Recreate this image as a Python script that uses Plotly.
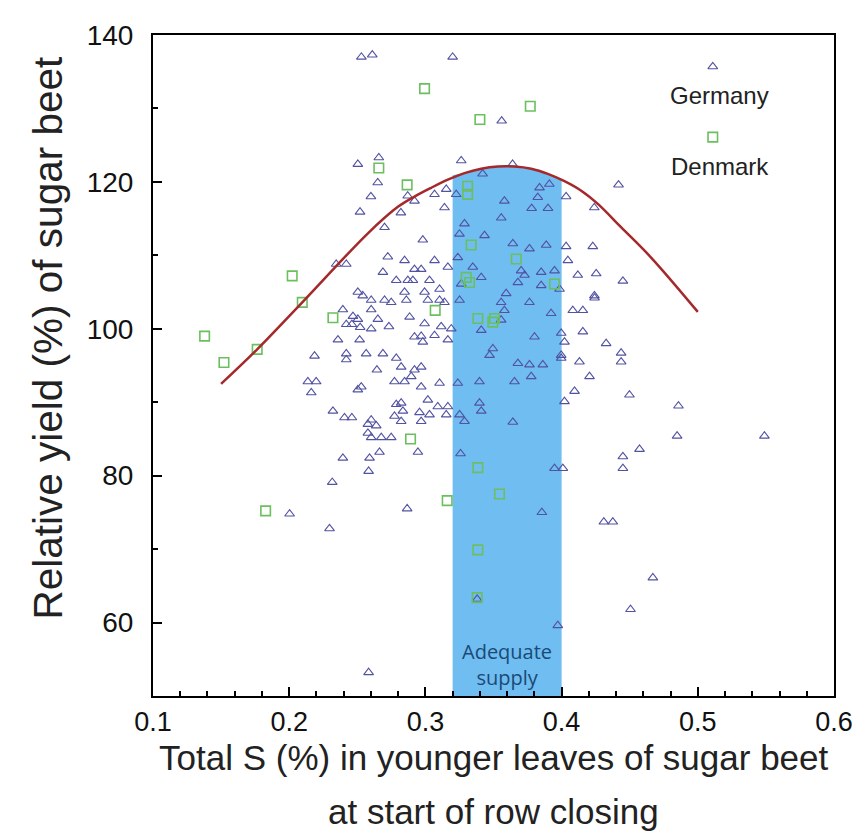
import plotly.graph_objects as go

# ---- data ----
germany_x = [0.253, 0.261, 0.2504, 0.2658, 0.265, 0.260, 0.252, 0.270,
             0.320, 0.356, 0.3263, 0.364, 0.342, 0.3153, 0.3067, 0.3226, 0.292, 0.287, 0.314, 0.282, 0.358, 0.3557,
             0.3838, 0.391, 0.3825, 0.378, 0.390, 0.4033, 0.424, 0.3287,
             0.2724, 0.2345, 0.2419, 0.2688, 0.2786, 0.2504, 0.254, 0.2602, 0.270, 0.2749, 0.2394, 0.2602, 0.2468,
             0.2504, 0.2419, 0.246, 0.2521, 0.2651, 0.2602, 0.2732, 0.2358, 0.2517, 0.2186, 0.2419, 0.2419, 0.2565,
             0.2688, 0.2786, 0.2644, 0.2773, 0.2137, 0.2198, 0.2162, 0.2504, 0.2529, 0.2321, 0.2406, 0.246, 0.2602,
             0.2578, 0.2639, 0.2786, 0.2773,
             0.2981, 0.2847, 0.3067, 0.292, 0.2969, 0.3165, 0.2871, 0.2908, 0.303, 0.3104, 0.2847, 0.286, 0.2994,
             0.3018, 0.3104, 0.314, 0.2884, 0.2994, 0.3116, 0.319, 0.292, 0.2969, 0.2981, 0.3067, 0.3165, 0.2822,
             0.292, 0.2969, 0.2896, 0.2847, 0.2969, 0.3104, 0.3018, 0.3091, 0.3165, 0.2822, 0.2835, 0.2957, 0.3030,
             0.3153, 0.2822, 0.2969,
             0.325, 0.3434, 0.3642, 0.3764, 0.3887, 0.4033, 0.4229, 0.3238, 0.3348, 0.4046, 0.3703, 0.3728, 0.385,
             0.3948, 0.341, 0.3263, 0.3679, 0.385, 0.3985, 0.4119, 0.4241, 0.3593, 0.3556, 0.358, 0.3251, 0.3764,
             0.3923, 0.3556, 0.341, 0.4082, 0.4156, 0.4156, 0.3997, 0.4021, 0.3801, 0.3495, 0.3471, 0.3997, 0.3997,
             0.3679, 0.3764, 0.3777, 0.3862, 0.4131, 0.4205, 0.3654, 0.3397, 0.3238, 0.4095, 0.4021, 0.3397, 0.341,
             0.3251, 0.3287, 0.3642,
             0.2578, 0.2602, 0.2676, 0.2749, 0.2663, 0.2394, 0.259, 0.2583, 0.2316, 0.2003, 0.2296, 0.2583,
             0.2945, 0.3258, 0.3948, 0.4009, 0.2866, 0.3855, 0.3972, 0.338,
             0.4327, 0.4437, 0.4437, 0.4498, 0.4858, 0.4848, 0.5489, 0.4572, 0.445, 0.445, 0.431, 0.4376, 0.467, 0.4506,
             0.4418, 0.4254, 0.445, 0.4242]
germany_y = [137.0, 137.3, 122.4, 123.3, 119.9, 118.0, 115.9, 113.8,
             137.0, 128.3, 122.9, 122.4, 121.1, 119.0, 118.3, 118.3, 117.4, 118.1, 116.5, 115.8, 117.4, 115.1,
             119.2, 119.7, 117.9, 116.4, 116.4, 118.0, 116.5, 114.3,
             109.8, 108.8, 108.8, 107.7, 106.6, 105.0, 104.5, 103.9, 103.9, 103.6, 102.6, 102.6, 101.7,
             101.3, 100.6, 100.6, 100.2, 101.3, 100.0, 100.3, 98.5, 98.5, 96.3, 96.6, 95.8, 96.6,
             96.6, 96.0, 94.4, 92.8, 92.8, 92.8, 91.3, 91.7, 92.1, 88.8, 87.9, 87.9, 87.6,
             87.0, 86.8, 89.7, 88.1,
             112.1, 109.3, 109.3, 108.1, 108.1, 108.4, 106.6, 106.6, 106.6, 105.4, 105.0, 103.9, 105.0,
             103.9, 103.9, 103.6, 101.6, 100.7, 100.3, 100.0, 98.9, 99.0, 98.2, 99.1, 98.5, 94.8,
             94.4, 94.8, 93.5, 92.8, 92.1, 92.6, 90.3, 89.4, 89.4, 89.9, 88.8, 88.6, 88.3,
             88.3, 87.4, 87.4,
             112.9, 112.7, 111.6, 110.9, 111.4, 111.2, 111.2, 109.7, 108.4, 109.3, 107.9, 107.3, 107.7,
             107.9, 107.0, 106.1, 106.3, 105.9, 105.4, 107.3, 104.5, 104.8, 103.6, 102.5, 103.9, 103.6,
             102.1, 101.2, 99.8, 102.5, 102.5, 99.6, 99.4, 98.2, 98.9, 97.3, 96.4, 96.4, 96.0,
             95.3, 95.1, 93.5, 95.1, 95.5, 93.5, 92.8, 92.8, 92.6, 91.5, 90.1, 89.9, 88.8,
             88.3, 87.4, 87.3,
             85.8, 85.2, 85.2, 85.2, 83.2, 82.4, 82.4, 80.6, 79.1, 74.8, 72.8, 53.2,
             83.2, 83.0, 81.0, 81.0, 75.5, 75.0, 59.6, 63.2,
             98.0, 96.7, 95.5, 91.0, 89.5, 85.4, 85.4, 83.6, 82.6, 81.0, 73.7, 73.7, 66.1, 61.8,
             119.6, 107.5, 106.5, 104.2]

denmark_x = [0.2994, 0.377, 0.340, 0.2866, 0.331, 0.331, 0.2658,
             0.2022, 0.2096, 0.2321, 0.1379, 0.1765, 0.1521,
             0.3072, 0.3336, 0.3667, 0.33, 0.3324, 0.3948, 0.3385, 0.3507, 0.3495,
             0.1827, 0.2891, 0.3385, 0.316, 0.3544, 0.3385, 0.338]
denmark_y = [132.7, 130.3, 128.5, 119.6, 119.4, 118.3, 121.9,
             107.2, 103.6, 101.5, 99.0, 97.2, 95.4,
             102.5, 111.4, 109.5, 107.0, 106.3, 106.1, 101.4, 101.4, 100.9,
             75.2, 85.0, 81.1, 76.6, 77.5, 69.9, 63.4]

curve_x = [0.15, 0.1765, 0.2096, 0.2578, 0.2798, 0.292, 0.3043, 0.3165, 0.3287, 0.341,
           0.3532, 0.3654, 0.3777, 0.3899, 0.4021, 0.4144, 0.4266, 0.4438, 0.4657, 0.5]
curve_y = [92.5, 97.2, 103.6, 113.0, 116.6, 118.0, 119.2, 120.3, 121.2, 121.8,
           122.1, 122.1, 121.8, 121.1, 120.1, 118.8, 117.0, 113.8, 109.7, 102.3]

band_x = [0.32, 0.32, 0.3287, 0.341, 0.3532, 0.3654, 0.3777, 0.3899, 0.40, 0.40]
band_y = [50, 120.9, 121.2, 121.8, 122.1, 122.1, 121.8, 121.1, 120.3, 50]

legend_names = ["Germany", "Denmark"]
legend_key_x = [0.511, 0.511]
legend_key_y = [135.7, 126.1]
legend_text_y = [131.8, 122.1]
legend_text_x = 0.516

x_tick_vals = [0.1, 0.2, 0.3, 0.4, 0.5, 0.6]
y_tick_vals = [60, 80, 100, 120, 140]
band_label = "Adequate<br>supply"
x_title_lines = ["Total S (%) in younger leaves of sugar beet", "at start of row closing"]
y_title = "Relative yield (%) of sugar beet"

TRI_COL = "#5252a2"
SQ_COL = "#6cbf5f"
FONT = "Liberation Sans, Arial, Helvetica, sans-serif"

fig = go.Figure()

fig.add_trace(go.Scatter(x=band_x, y=band_y, fill="toself", mode="none",
                         fillcolor="#6fbdf1", hoverinfo="skip", showlegend=False))

fig.add_trace(go.Scatter(x=germany_x, y=germany_y, mode="markers", name="Germany",
                         marker=dict(symbol="triangle-up-open", size=8.5, color=TRI_COL,
                                     line=dict(width=1.1, color=TRI_COL)),
                         showlegend=False))
fig.add_trace(go.Scatter(x=denmark_x, y=denmark_y, mode="markers", name="Denmark",
                         marker=dict(symbol="square-open", size=9.5, color=SQ_COL,
                                     line=dict(width=1.6, color=SQ_COL)),
                         showlegend=False))

fig.add_trace(go.Scatter(x=curve_x, y=curve_y, mode="lines",
                         line=dict(color="#a5282a", width=2.5, shape="spline", smoothing=1.0),
                         showlegend=False, hoverinfo="skip"))

# legend keys
fig.add_trace(go.Scatter(x=[legend_key_x[0]], y=[legend_key_y[0]], mode="markers",
                         marker=dict(symbol="triangle-up-open", size=8.5, color=TRI_COL,
                                     line=dict(width=1.1, color=TRI_COL)),
                         showlegend=False, hoverinfo="skip"))
fig.add_trace(go.Scatter(x=[legend_key_x[1]], y=[legend_key_y[1]], mode="markers",
                         marker=dict(symbol="square-open", size=9.5, color=SQ_COL,
                                     line=dict(width=1.6, color=SQ_COL)),
                         showlegend=False, hoverinfo="skip"))

annotations = []
for name, ty in zip(legend_names, legend_text_y):
    annotations.append(dict(x=legend_text_x, y=ty, xref="x", yref="y", text=name,
                            showarrow=False, font=dict(family=FONT, size=24, color="#222222"),
                            xanchor="center", yanchor="middle"))
annotations.append(dict(x=0.36, y=54.3, xref="x", yref="y", text=band_label, showarrow=False,
                        font=dict(family="Open Sans, Noto Sans, sans-serif", size=20, color="#1a4a75"),
                        xanchor="center", yanchor="middle"))
annotations.append(dict(x=0.5, y=-0.0932, xref="paper", yref="paper", text=x_title_lines[0],
                        showarrow=False, font=dict(family=FONT, size=35, color="#222222"),
                        xanchor="center", yanchor="middle"))
annotations.append(dict(x=0.5, y=-0.1744, xref="paper", yref="paper", text=x_title_lines[1],
                        showarrow=False, font=dict(family=FONT, size=35, color="#222222"),
                        xanchor="center", yanchor="middle"))
annotations.append(dict(x=-0.154, y=0.541, xref="paper", yref="paper", text=y_title,
                        textangle=-90, showarrow=False,
                        font=dict(family=FONT, size=40.5, color="#222222"),
                        xanchor="center", yanchor="middle"))

fig.update_layout(
    width=866, height=840,
    margin=dict(l=145, r=40, t=23, b=152),
    plot_bgcolor="white", paper_bgcolor="white",
    showlegend=False,
    annotations=annotations,
    xaxis=dict(range=[0.1, 0.6], tickvals=x_tick_vals, tickformat=".1f",
               ticks="inside", ticklen=9, tickwidth=2, tickcolor="black",
               minor=dict(dtick=0.02, ticks="inside", ticklen=5, tickwidth=1.5, tickcolor="black"),
               showline=True, linewidth=2, linecolor="black", mirror=True,
               showgrid=False, zeroline=False,
               tickfont=dict(family=FONT, size=27, color="#111111"), ticklabelstandoff=1),
    yaxis=dict(range=[50, 140], tickvals=y_tick_vals,
               ticks="inside", ticklen=9, tickwidth=2, tickcolor="black",
               minor=dict(dtick=10, ticks="inside", ticklen=5, tickwidth=1.5, tickcolor="black"),
               showline=True, linewidth=2, linecolor="black", mirror=True,
               showgrid=False, zeroline=False,
               tickfont=dict(family=FONT, size=28, color="#111111"), ticklabelstandoff=12),
)

fig.write_html("out.html")
